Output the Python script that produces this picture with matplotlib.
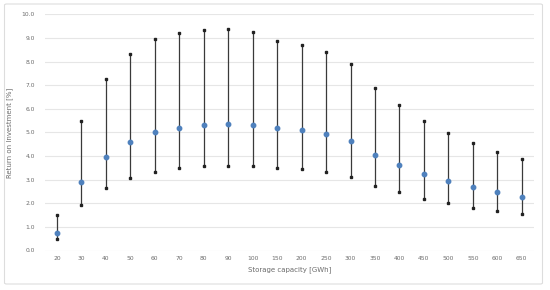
import matplotlib.pyplot as plt
from matplotlib.patches import FancyBboxPatch
import numpy as np

# storage capacity categories (GWh)
capacity = ["20", "30", "40", "50", "60", "70", "80", "90", "100", "150",
            "200", "250", "300", "350", "400", "450", "500", "550", "600", "650"]
roi_mean = [0.75, 2.92, 3.96, 4.60, 5.01, 5.20, 5.30, 5.36, 5.32, 5.18,
            5.09, 4.94, 4.64, 4.06, 3.64, 3.24, 2.93, 2.68, 2.48, 2.28]
roi_max = [1.49, 5.49, 7.25, 8.30, 8.95, 9.20, 9.34, 9.37, 9.27, 8.89,
           8.71, 8.40, 7.89, 6.90, 6.17, 5.50, 4.98, 4.54, 4.19, 3.86]
roi_min = [0.49, 1.93, 2.63, 3.06, 3.34, 3.48, 3.57, 3.59, 3.58, 3.48,
           3.44, 3.33, 3.13, 2.73, 2.47, 2.20, 2.00, 1.81, 1.67, 1.55]

TEXT = "#6b6b6b"
GRID = "#E6E6E6"
BLUE = "#4F81BD"
LINE = "#3a3a3a"

fig = plt.figure(figsize=(5.5, 2.9), dpi=100)
fig.patch.set_facecolor("white")

# light frame around the chart
frame = FancyBboxPatch((4.5 / 550, 6 / 290), 538 / 550, 280 / 290,
                       boxstyle="round,pad=0,rounding_size=0.004",
                       transform=fig.transFigure, facecolor="none",
                       edgecolor="#DDDDDD", linewidth=0.8)
fig.patches.append(frame)

ax = fig.add_axes([44.7 / 550, 1 - 250.5 / 290, 489.3 / 550, 236.2 / 290])
x = np.arange(len(capacity))

ax.vlines(x, roi_min, roi_max, color=LINE, linewidth=0.9, zorder=2)
ax.plot(x, roi_max, ls="none", marker="s", ms=1.8, color="#222222", zorder=3)
ax.plot(x, roi_min, ls="none", marker="s", ms=1.8, color="#222222", zorder=3)
ax.plot(x, roi_mean, ls="none", marker="o", ms=3.2, color=BLUE, zorder=4)

ax.set_xlim(-0.5, len(capacity) - 0.5)
ax.set_ylim(0, 10)
ax.set_yticks(np.arange(0, 10.01, 1.0))
ax.set_yticklabels([f"{v:.1f}" for v in np.arange(0, 10.01, 1.0)])
ax.set_xticks(x)
ax.set_xticklabels(capacity)
ax.yaxis.grid(True, color=GRID, linewidth=0.8)
ax.set_axisbelow(True)
for s in ax.spines.values():
    s.set_visible(False)
ax.tick_params(length=0, labelsize=4.3, colors=TEXT, pad=4)
ax.tick_params(axis="y", pad=7)

ax.set_xlabel("Storage capacity [GWh]", fontsize=5.0, color=TEXT, labelpad=4)
ax.set_ylabel("Return on Investment [%]", fontsize=5.0, color=TEXT, labelpad=6)

fig.savefig("out.png", dpi=100)
